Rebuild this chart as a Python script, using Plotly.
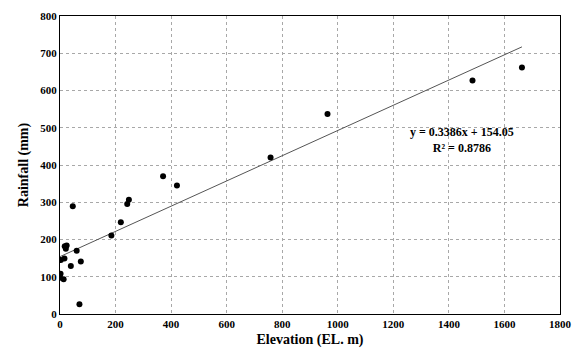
import plotly.graph_objects as go
import numpy as np

elevation = [1663, 1485, 963, 758, 421, 371, 248, 242, 219, 185, 46, 24, 17, 21, 60, 3, 16, 75, 39, 2, 0, 13, 70]
rainfall = [662, 627, 537, 420, 345, 370, 307, 295, 246, 211, 289, 184, 182, 175, 170, 145, 149, 141, 129, 108, 97, 93, 26]
slope = 0.3386
intercept = 154.05
r2 = 0.8786

font_family = "Liberation Serif, Times New Roman, serif"

x_line = np.array([0, max(elevation)])
y_line = slope * x_line + intercept

fig = go.Figure()
fig.add_trace(go.Scatter(x=x_line, y=y_line, mode="lines",
                         line=dict(color="#555555", width=1), hoverinfo="skip"))
fig.add_trace(go.Scatter(x=elevation, y=rainfall, mode="markers",
                         marker=dict(color="black", size=6)))

fig.add_annotation(x=1448, y=466, xref="x", yref="y",
                   text=f"<b>y = {slope}x + {intercept}</b><br><b>R² = {r2}</b>",
                   showarrow=False, align="center",
                   font=dict(family=font_family, size=12, color="black"))

axis_common = dict(showline=True, linecolor="black", linewidth=1, mirror=True,
                   showgrid=True, gridcolor="#a8a8a8", griddash="dot", gridwidth=1,
                   zeroline=False, ticks="",
                   tickfont=dict(family=font_family, size=11, color="black", weight="bold"))

fig.update_xaxes(range=[0, 1800], dtick=200, tickformat="d",
                 title=dict(text="<b>Elevation (EL. m)</b>", standoff=4,
                            font=dict(family=font_family, size=14, color="black")),
                 **axis_common)
fig.update_yaxes(range=[0, 800], dtick=100,
                 title=dict(text="<b>Rainfall (mm)</b>", standoff=8,
                            font=dict(family=font_family, size=14, color="black")),
                 **axis_common)

fig.update_layout(width=582, height=359, showlegend=False,
                  margin=dict(l=60, r=19, t=10, b=45),
                  plot_bgcolor="white", paper_bgcolor="white",
                  font=dict(family=font_family, color="black"))

fig.write_html("out.html")
